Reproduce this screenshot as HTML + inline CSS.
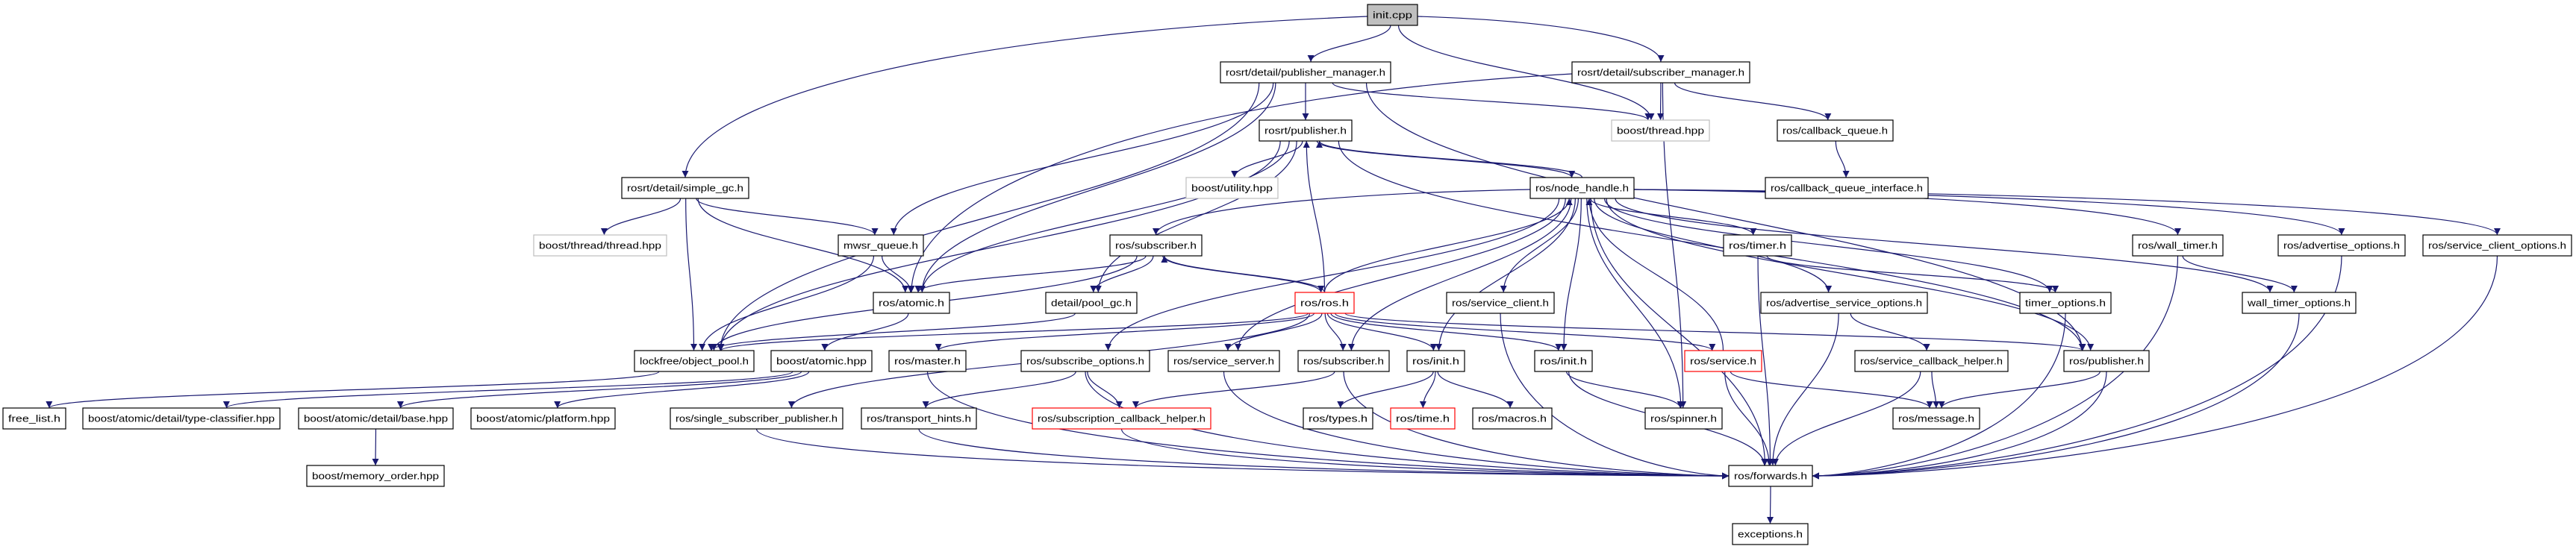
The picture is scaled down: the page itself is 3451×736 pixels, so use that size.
<!DOCTYPE html>
<html><head><meta charset="utf-8"><style>
html,body{margin:0;padding:0;background:#fff;}
svg{display:block;}
text{font-family:"Liberation Sans",sans-serif;font-size:13px;fill:#000;}
</style></head><body>
<svg id="g" width="3451" height="736" viewBox="0 0 3451 736" xmlns="http://www.w3.org/2000/svg">
<defs><marker id="a" viewBox="0 0 10 10" refX="10" refY="5" markerWidth="9" markerHeight="9" markerUnits="userSpaceOnUse" orient="auto"><path d="M0,0 L10,5 L0,10 z" fill="#191970"/></marker></defs>
<g id="edges" fill="none" stroke="#191970" stroke-width="1.2"></g>
<g id="nodes">
<rect x="1832" y="6" width="67" height="28" fill="#bfbfbf" stroke="#000" stroke-width="1.2"/><text x="1865.5" y="24.5" text-anchor="middle">init.cpp</text>
<rect x="1635" y="83" width="228" height="28" fill="#fff" stroke="#000" stroke-width="1.2"/><text x="1749" y="101.5" text-anchor="middle">rosrt/detail/publisher_manager.h</text>
<rect x="2106" y="83" width="238" height="28" fill="#fff" stroke="#000" stroke-width="1.2"/><text x="2225" y="101.5" text-anchor="middle">rosrt/detail/subscriber_manager.h</text>
<rect x="1687" y="161" width="124" height="28" fill="#fff" stroke="#000" stroke-width="1.2"/><text x="1749" y="179.5" text-anchor="middle">rosrt/publisher.h</text>
<rect x="2159" y="161" width="131" height="28" fill="#fff" stroke="#bfbfbf" stroke-width="1.2"/><text x="2224.5" y="179.5" text-anchor="middle">boost/thread.hpp</text>
<rect x="2381" y="161" width="155" height="28" fill="#fff" stroke="#000" stroke-width="1.2"/><text x="2458.5" y="179.5" text-anchor="middle">ros/callback_queue.h</text>
<rect x="833" y="238" width="170" height="28" fill="#fff" stroke="#000" stroke-width="1.2"/><text x="918" y="256.5" text-anchor="middle">rosrt/detail/simple_gc.h</text>
<rect x="1589" y="238" width="123" height="28" fill="#fff" stroke="#bfbfbf" stroke-width="1.2"/><text x="1650.5" y="256.5" text-anchor="middle">boost/utility.hpp</text>
<rect x="2050" y="238" width="139" height="28" fill="#fff" stroke="#000" stroke-width="1.2"/><text x="2119.5" y="256.5" text-anchor="middle">ros/node_handle.h</text>
<rect x="2365" y="238" width="218" height="28" fill="#fff" stroke="#000" stroke-width="1.2"/><text x="2474" y="256.5" text-anchor="middle">ros/callback_queue_interface.h</text>
<rect x="715" y="315" width="178" height="28" fill="#fff" stroke="#bfbfbf" stroke-width="1.2"/><text x="804" y="333.5" text-anchor="middle">boost/thread/thread.hpp</text>
<rect x="1123" y="315" width="114" height="28" fill="#fff" stroke="#000" stroke-width="1.2"/><text x="1180" y="333.5" text-anchor="middle">mwsr_queue.h</text>
<rect x="1487" y="315" width="123" height="28" fill="#fff" stroke="#000" stroke-width="1.2"/><text x="1548.5" y="333.5" text-anchor="middle">ros/subscriber.h</text>
<rect x="2309" y="315" width="91" height="28" fill="#fff" stroke="#000" stroke-width="1.2"/><text x="2354.5" y="333.5" text-anchor="middle">ros/timer.h</text>
<rect x="2857" y="315" width="121" height="28" fill="#fff" stroke="#000" stroke-width="1.2"/><text x="2917.5" y="333.5" text-anchor="middle">ros/wall_timer.h</text>
<rect x="3052" y="315" width="170" height="28" fill="#fff" stroke="#000" stroke-width="1.2"/><text x="3137" y="333.5" text-anchor="middle">ros/advertise_options.h</text>
<rect x="3246" y="315" width="199" height="28" fill="#fff" stroke="#000" stroke-width="1.2"/><text x="3345.5" y="333.5" text-anchor="middle">ros/service_client_options.h</text>
<rect x="1170" y="392" width="102" height="28" fill="#fff" stroke="#000" stroke-width="1.2"/><text x="1221" y="410.5" text-anchor="middle">ros/atomic.h</text>
<rect x="1401" y="392" width="122" height="28" fill="#fff" stroke="#000" stroke-width="1.2"/><text x="1462" y="410.5" text-anchor="middle">detail/pool_gc.h</text>
<rect x="1735" y="392" width="79" height="28" fill="#fff" stroke="#ff0000" stroke-width="1.2"/><text x="1774.5" y="410.5" text-anchor="middle">ros/ros.h</text>
<rect x="1938" y="392" width="144" height="28" fill="#fff" stroke="#000" stroke-width="1.2"/><text x="2010" y="410.5" text-anchor="middle">ros/service_client.h</text>
<rect x="2359" y="392" width="223" height="28" fill="#fff" stroke="#000" stroke-width="1.2"/><text x="2470.5" y="410.5" text-anchor="middle">ros/advertise_service_options.h</text>
<rect x="2706" y="392" width="122" height="28" fill="#fff" stroke="#000" stroke-width="1.2"/><text x="2767" y="410.5" text-anchor="middle">timer_options.h</text>
<rect x="3004" y="392" width="152" height="28" fill="#fff" stroke="#000" stroke-width="1.2"/><text x="3080" y="410.5" text-anchor="middle">wall_timer_options.h</text>
<rect x="850" y="470" width="160" height="28" fill="#fff" stroke="#000" stroke-width="1.2"/><text x="930" y="488.5" text-anchor="middle">lockfree/object_pool.h</text>
<rect x="1033" y="470" width="135" height="28" fill="#fff" stroke="#000" stroke-width="1.2"/><text x="1100.5" y="488.5" text-anchor="middle">boost/atomic.hpp</text>
<rect x="1191" y="470" width="103" height="28" fill="#fff" stroke="#000" stroke-width="1.2"/><text x="1242.5" y="488.5" text-anchor="middle">ros/master.h</text>
<rect x="1368" y="470" width="172" height="28" fill="#fff" stroke="#000" stroke-width="1.2"/><text x="1454" y="488.5" text-anchor="middle">ros/subscribe_options.h</text>
<rect x="1565" y="470" width="149" height="28" fill="#fff" stroke="#000" stroke-width="1.2"/><text x="1639.5" y="488.5" text-anchor="middle">ros/service_server.h</text>
<rect x="1739" y="470" width="122" height="28" fill="#fff" stroke="#000" stroke-width="1.2"/><text x="1800" y="488.5" text-anchor="middle">ros/subscriber.h</text>
<rect x="1885" y="470" width="77" height="28" fill="#fff" stroke="#000" stroke-width="1.2"/><text x="1923.5" y="488.5" text-anchor="middle">ros/init.h</text>
<rect x="2056" y="470" width="77" height="28" fill="#fff" stroke="#000" stroke-width="1.2"/><text x="2094.5" y="488.5" text-anchor="middle">ros/init.h</text>
<rect x="2257" y="470" width="103" height="28" fill="#fff" stroke="#ff0000" stroke-width="1.2"/><text x="2308.5" y="488.5" text-anchor="middle">ros/service.h</text>
<rect x="2485" y="470" width="205" height="28" fill="#fff" stroke="#000" stroke-width="1.2"/><text x="2587.5" y="488.5" text-anchor="middle">ros/service_callback_helper.h</text>
<rect x="2765" y="470" width="114" height="28" fill="#fff" stroke="#000" stroke-width="1.2"/><text x="2822" y="488.5" text-anchor="middle">ros/publisher.h</text>
<rect x="4" y="547" width="84" height="28" fill="#fff" stroke="#000" stroke-width="1.2"/><text x="46" y="565.5" text-anchor="middle">free_list.h</text>
<rect x="111" y="547" width="264" height="28" fill="#fff" stroke="#000" stroke-width="1.2"/><text x="243" y="565.5" text-anchor="middle">boost/atomic/detail/type-classifier.hpp</text>
<rect x="400" y="547" width="207" height="28" fill="#fff" stroke="#000" stroke-width="1.2"/><text x="503.5" y="565.5" text-anchor="middle">boost/atomic/detail/base.hpp</text>
<rect x="631" y="547" width="193" height="28" fill="#fff" stroke="#000" stroke-width="1.2"/><text x="727.5" y="565.5" text-anchor="middle">boost/atomic/platform.hpp</text>
<rect x="898" y="547" width="231" height="28" fill="#fff" stroke="#000" stroke-width="1.2"/><text x="1013.5" y="565.5" text-anchor="middle">ros/single_subscriber_publisher.h</text>
<rect x="1154" y="547" width="154" height="28" fill="#fff" stroke="#000" stroke-width="1.2"/><text x="1231" y="565.5" text-anchor="middle">ros/transport_hints.h</text>
<rect x="1383" y="547" width="239" height="28" fill="#fff" stroke="#ff0000" stroke-width="1.2"/><text x="1502.5" y="565.5" text-anchor="middle">ros/subscription_callback_helper.h</text>
<rect x="1746" y="547" width="93" height="28" fill="#fff" stroke="#000" stroke-width="1.2"/><text x="1792.5" y="565.5" text-anchor="middle">ros/types.h</text>
<rect x="1863" y="547" width="86" height="28" fill="#fff" stroke="#ff0000" stroke-width="1.2"/><text x="1906" y="565.5" text-anchor="middle">ros/time.h</text>
<rect x="1973" y="547" width="106" height="28" fill="#fff" stroke="#000" stroke-width="1.2"/><text x="2026" y="565.5" text-anchor="middle">ros/macros.h</text>
<rect x="2204" y="547" width="103" height="28" fill="#fff" stroke="#000" stroke-width="1.2"/><text x="2255.5" y="565.5" text-anchor="middle">ros/spinner.h</text>
<rect x="2536" y="547" width="116" height="28" fill="#fff" stroke="#000" stroke-width="1.2"/><text x="2594" y="565.5" text-anchor="middle">ros/message.h</text>
<rect x="411" y="624" width="184" height="28" fill="#fff" stroke="#000" stroke-width="1.2"/><text x="503" y="642.5" text-anchor="middle">boost/memory_order.hpp</text>
<rect x="2316" y="624" width="112" height="28" fill="#fff" stroke="#000" stroke-width="1.2"/><text x="2372" y="642.5" text-anchor="middle">ros/forwards.h</text>
<rect x="2321" y="702" width="101" height="28" fill="#fff" stroke="#000" stroke-width="1.2"/><text x="2371.5" y="720.5" text-anchor="middle">exceptions.h</text>
</g>
</svg>
<script>
var svg=document.getElementById('g');
var rects=svg.querySelectorAll('#nodes rect'),texts=svg.querySelectorAll('#nodes text'),B={};
for(var i=0;i<rects.length;i++){var r=rects[i],t=texts[i];var w=+r.getAttribute('width');t.setAttribute('textLength',w-14);t.setAttribute('lengthAdjust','spacingAndGlyphs');
var k=t.textContent;if(B[k])k=k+'2';B[k]={x:+r.getAttribute('x'),y:+r.getAttribute('y'),w:w,h:28};}
var SIDE={'init.cpp>rosrt/detail/simple_gc.h':1,'init.cpp>rosrt/detail/subscriber_manager.h':1,'ros/node_handle.h>ros/wall_timer.h':1,'ros/node_handle.h>ros/advertise_options.h':1,'ros/node_handle.h>ros/service_client_options.h':1,'ros/node_handle.h>ros/subscriber.h':1,'rosrt/detail/subscriber_manager.h>ros/atomic.h':1};
var E=[
['init.cpp','rosrt/detail/simple_gc.h'],['init.cpp','rosrt/detail/publisher_manager.h'],['init.cpp','rosrt/detail/subscriber_manager.h'],['init.cpp','boost/thread.hpp'],
['rosrt/detail/publisher_manager.h','rosrt/publisher.h'],['rosrt/detail/publisher_manager.h','boost/thread.hpp'],['rosrt/detail/publisher_manager.h','mwsr_queue.h'],['rosrt/detail/publisher_manager.h','ros/atomic.h'],['rosrt/detail/publisher_manager.h','lockfree/object_pool.h'],['rosrt/detail/publisher_manager.h','ros/publisher.h'],
['rosrt/detail/subscriber_manager.h','boost/thread.hpp'],['rosrt/detail/subscriber_manager.h','ros/callback_queue.h'],['rosrt/detail/subscriber_manager.h','ros/spinner.h'],['rosrt/detail/subscriber_manager.h','ros/atomic.h'],
['ros/callback_queue.h','ros/callback_queue_interface.h'],
['rosrt/detail/simple_gc.h','boost/thread/thread.hpp'],['rosrt/detail/simple_gc.h','lockfree/object_pool.h'],['rosrt/detail/simple_gc.h','mwsr_queue.h'],['rosrt/detail/simple_gc.h','ros/atomic.h'],
['mwsr_queue.h','ros/atomic.h'],['mwsr_queue.h','lockfree/object_pool.h'],
['rosrt/publisher.h','boost/utility.hpp'],['rosrt/publisher.h','ros/node_handle.h'],['rosrt/publisher.h','ros/atomic.h'],['rosrt/publisher.h','detail/pool_gc.h'],['rosrt/publisher.h','lockfree/object_pool.h'],['rosrt/publisher.h','ros/publisher.h'],
['ros/node_handle.h','rosrt/publisher.h'],['ros/node_handle.h','ros/subscriber.h'],['ros/node_handle.h','ros/subscribe_options.h'],['ros/node_handle.h','ros/service_server.h'],['ros/node_handle.h','ros/subscriber.h2'],['ros/node_handle.h','ros/init.h'],['ros/node_handle.h','ros/init.h2'],['ros/node_handle.h','ros/service_client.h'],['ros/node_handle.h','ros/spinner.h'],['ros/node_handle.h','ros/forwards.h'],['ros/node_handle.h','ros/timer.h'],['ros/node_handle.h','ros/wall_timer.h'],['ros/node_handle.h','ros/advertise_options.h'],['ros/node_handle.h','ros/service_client_options.h'],['ros/node_handle.h','ros/advertise_service_options.h'],['ros/node_handle.h','timer_options.h'],['ros/node_handle.h','wall_timer_options.h'],['ros/node_handle.h','ros/publisher.h'],
['ros/subscriber.h','ros/atomic.h'],['ros/subscriber.h','detail/pool_gc.h'],['ros/subscriber.h','ros/ros.h'],['ros/subscriber.h','lockfree/object_pool.h'],
['ros/atomic.h','boost/atomic.hpp'],['detail/pool_gc.h','lockfree/object_pool.h'],
['ros/ros.h','rosrt/publisher.h'],['ros/ros.h','ros/node_handle.h'],['ros/ros.h','ros/subscriber.h'],['ros/ros.h','lockfree/object_pool.h'],['ros/ros.h','ros/master.h'],['ros/ros.h','ros/service_server.h'],['ros/ros.h','ros/subscriber.h2'],['ros/ros.h','ros/init.h'],['ros/ros.h','ros/init.h2'],['ros/ros.h','ros/service.h'],['ros/ros.h','ros/publisher.h'],['ros/ros.h','ros/single_subscriber_publisher.h'],
['boost/atomic.hpp','boost/atomic/detail/type-classifier.hpp'],['boost/atomic.hpp','boost/atomic/detail/base.hpp'],['boost/atomic.hpp','boost/atomic/platform.hpp'],
['lockfree/object_pool.h','free_list.h'],['boost/atomic/detail/base.hpp','boost/memory_order.hpp'],
['ros/master.h','ros/forwards.h'],['ros/subscribe_options.h','ros/transport_hints.h'],['ros/subscribe_options.h','ros/subscription_callback_helper.h'],['ros/subscribe_options.h','ros/forwards.h'],
['ros/service_server.h','ros/forwards.h'],['ros/subscriber.h2','ros/subscription_callback_helper.h'],['ros/subscriber.h2','ros/forwards.h'],
['ros/init.h','ros/types.h'],['ros/init.h','ros/time.h'],['ros/init.h','ros/macros.h'],['ros/init.h2','ros/spinner.h'],['ros/init.h2','ros/forwards.h'],
['ros/service.h','ros/node_handle.h'],['ros/service.h','ros/message.h'],['ros/service.h','ros/forwards.h'],['ros/service_client.h','ros/forwards.h'],
['ros/transport_hints.h','ros/forwards.h'],['ros/subscription_callback_helper.h','ros/forwards.h'],['ros/single_subscriber_publisher.h','ros/forwards.h'],
['ros/timer.h','timer_options.h'],['ros/timer.h','ros/forwards.h'],['ros/wall_timer.h','wall_timer_options.h'],['ros/wall_timer.h','ros/forwards.h'],
['ros/advertise_options.h','ros/forwards.h'],['ros/service_client_options.h','ros/forwards.h'],['ros/advertise_service_options.h','ros/service_callback_helper.h'],['ros/advertise_service_options.h','ros/forwards.h'],
['timer_options.h','ros/forwards.h'],['wall_timer_options.h','ros/forwards.h'],['ros/service_callback_helper.h','ros/message.h'],['ros/service_callback_helper.h','ros/forwards.h'],
['ros/publisher.h','ros/message.h'],['ros/publisher.h','ros/forwards.h'],['ros/forwards.h','exceptions.h']];
var G=document.getElementById('edges');
E.forEach(function(e){var a=B[e[0]],b=B[e[1]];if(!a||!b)return;
var ax=a.x+a.w/2,bx=b.x+b.w/2,x1,y1,x2,y2,d;
if(Math.abs(a.y-b.y)<5){
 if(bx<ax){x1=a.x;x2=b.x+b.w;}else{x1=a.x+a.w;x2=b.x;}y1=a.y+14;y2=b.y+14;
 d='M'+x1+','+y1+' L'+x2+','+y2;
}else if(b.y>a.y){
 if(e[1]=='ros/forwards.h'&&Math.abs(bx-ax)>300){
  x1=ax;y1=a.y+a.h;x2=bx<ax?b.x+b.w:b.x;y2=b.y+14;
  d='M'+x1+','+y1+' C'+x1+','+(y1+(y2-y1)*0.8)+' '+(x2+(ax-x2)*0.2)+','+y2+' '+x2+','+y2;
 }else if(SIDE[e[0]+'>'+e[1]]){
  x1=bx<ax?a.x:a.x+a.w;y1=a.y+16;x2=bx;y2=b.y;
  d='M'+x1+','+y1+' C'+(x1+(x2-x1)*0.6)+','+(y1+(y2-y1)*0.1)+' '+x2+','+(y2-(y2-y1)*0.5)+' '+x2+','+y2;
 }else{
 var f=Math.max(-0.45,Math.min(0.45,(bx-ax)/3000));
 x1=ax+f*a.w;y1=a.y+a.h;x2=bx-f*b.w*0.8;y2=b.y;
 var dy=(y2-y1);
 d='M'+x1+','+y1+' C'+x1+','+(y1+dy*0.45)+' '+x2+','+(y2-dy*0.45)+' '+x2+','+y2;}
}else{
 x1=ax;y1=a.y;x2=bx+(ax-bx)*0.05;y2=b.y+b.h;var dy=y1-y2;
 d='M'+x1+','+y1+' C'+x1+','+(y1-dy*0.45)+' '+x2+','+(y2+dy*0.45)+' '+x2+','+y2;
}
var p=document.createElementNS('http://www.w3.org/2000/svg','path');p.setAttribute('d',d);p.setAttribute('marker-end','url(#a)');G.appendChild(p);});
</script>
</body></html>
